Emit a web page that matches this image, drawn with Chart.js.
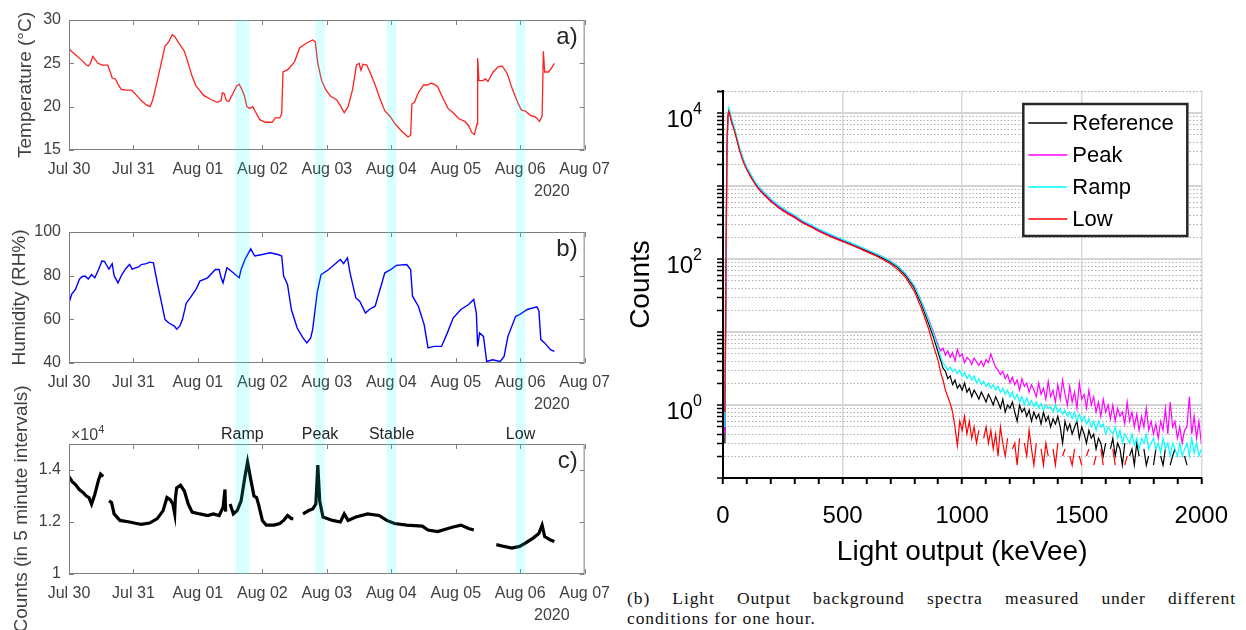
<!DOCTYPE html>
<html>
<head>
<meta charset="utf-8">
<script src="https://cdn.jsdelivr.net/npm/chart.js@4.4.1/dist/chart.umd.min.js"></script>
<style>
  body { margin: 0; background: #fff; width: 1246px; height: 630px; overflow: hidden; position: relative; }
  canvas { position: absolute; }
  #caption { position: absolute; left: 627px; top: 588px; width: 609px; font-family: "Liberation Serif", "Times New Roman", serif; font-size: 17.5px; letter-spacing: 0.9px; line-height: 20px; color: #111; }
  #caption .first { text-align: justify; text-align-last: justify; }
</style>
</head>
<body>
<canvas id="tempChart" width="620" height="206" style="left:0;top:0"></canvas>
<canvas id="humChart" width="620" height="209" style="left:0;top:206px"></canvas>
<canvas id="countChart" width="620" height="250" style="left:0;top:380px"></canvas>
<canvas id="specChart" width="626" height="580" style="left:620px;top:0"></canvas>
<div id="caption"><div class="first">(b) Light Output background spectra measured under different</div><div>conditions for one hour.</div></div>
<script>
// ---- time series (x = days since Jul 30 00:00) ----
const dayLabels = ['Jul 30', 'Jul 31', 'Aug 01', 'Aug 02', 'Aug 03', 'Aug 04', 'Aug 05', 'Aug 06', 'Aug 07'];

const bandStart = [2.58, 3.82, 4.93, 6.93];
const bandEnd = [2.80, 3.97, 5.08, 7.08];
const bandNames = ['Ramp', 'Peak', 'Stable', 'Low'];

const tempTicks = [15, 20, 25, 30];
const humTicks = [40, 60, 80, 100];
const countTicks = [10000, 12000, 14000];

const tempDays = [0, 0.05, 0.1, 0.16, 0.22, 0.27, 0.3, 0.33, 0.37, 0.41, 0.45, 0.52, 0.6, 0.64, 0.67, 0.72, 0.76, 0.81, 0.9, 0.97,
  1.05, 1.12, 1.2, 1.26, 1.3, 1.37, 1.43, 1.49, 1.55, 1.6, 1.64, 1.7, 1.79, 1.85, 1.91, 1.97, 2.09, 2.21, 2.3, 2.36,
  2.38, 2.41, 2.44, 2.48, 2.54, 2.6, 2.64, 2.68, 2.72, 2.76, 2.8, 2.85, 2.9, 2.96, 3.05, 3.15, 3.2, 3.27, 3.3, 3.32,
  3.4, 3.5, 3.58, 3.7, 3.78, 3.82, 3.86, 3.92, 3.98, 4.06, 4.15, 4.22, 4.27, 4.33, 4.4, 4.46, 4.5, 4.53, 4.56, 4.62,
  4.68, 4.75, 4.82, 4.9, 4.98, 5.06, 5.16, 5.26, 5.3, 5.32, 5.36, 5.42, 5.5, 5.56, 5.62, 5.66, 5.72, 5.8, 5.88, 5.96,
  6.05, 6.14, 6.2, 6.25, 6.29, 6.33, 6.34, 6.36, 6.42, 6.46, 6.5, 6.58, 6.66, 6.72, 6.8, 6.88, 6.96, 7.02, 7.08, 7.16,
  7.24, 7.3, 7.34, 7.36, 7.38, 7.44, 7.49, 7.53];
const tempValues = [26.7, 26.3, 26.0, 25.6, 25.2, 24.8, 24.7, 25.0, 25.8, 25.4, 25.0, 24.8, 24.8, 24.0, 23.3, 23.2, 22.6, 22.0, 21.9, 21.9,
  21.3, 20.7, 20.2, 20.0, 20.8, 23.0, 25.0, 27.0, 27.5, 28.3, 28.1, 27.4, 26.4, 25.0, 23.5, 22.4, 21.3, 20.8, 20.5, 20.7,
  21.6, 21.5, 20.7, 20.6, 21.5, 22.4, 22.6, 22.0, 21.3, 20.0, 19.8, 20.0, 19.3, 18.5, 18.2, 18.2, 18.7, 18.7, 19.2, 24.0,
  24.3, 25.2, 26.8, 27.4, 27.7, 27.5, 25.0, 23.0, 22.0, 21.2, 20.8, 20.0, 19.3, 20.0, 22.0, 24.8, 25.0, 24.2, 24.9, 24.8,
  23.8, 22.5, 21.0, 19.5, 18.9, 18.0, 17.2, 16.5, 16.7, 20.3, 20.5, 21.6, 22.5, 22.5, 22.7, 22.6, 22.3, 21.0, 19.8, 19.3,
  18.6, 18.3, 17.8, 17.0, 16.8, 18.0, 25.6, 23.0, 23.0, 23.2, 22.9, 24.0, 24.6, 24.7, 23.8, 22.0, 20.5, 19.6, 19.5, 19.0,
  18.8, 18.3, 18.9, 26.4, 24.0, 24.0, 24.5, 25.0];

const humDays = [0, 0.04, 0.1, 0.16, 0.2, 0.25, 0.3, 0.35, 0.4, 0.46, 0.51, 0.55, 0.58, 0.62, 0.67, 0.7, 0.76, 0.82, 0.88, 0.94,
  0.98, 1.03, 1.08, 1.12, 1.2, 1.25, 1.31, 1.37, 1.43, 1.49, 1.55, 1.64, 1.67, 1.72, 1.76, 1.82, 1.88, 1.97, 2.03, 2.15,
  2.27, 2.33, 2.36, 2.39, 2.45, 2.52, 2.58, 2.64, 2.67, 2.73, 2.82, 2.88, 3.0, 3.12, 3.24, 3.3, 3.33, 3.39, 3.45, 3.54,
  3.63, 3.69, 3.75, 3.78, 3.85, 3.91, 4.03, 4.15, 4.21, 4.26, 4.32, 4.36, 4.45, 4.51, 4.6, 4.66, 4.75, 4.81, 4.9, 4.99,
  5.08, 5.24, 5.3, 5.33, 5.42, 5.51, 5.57, 5.66, 5.78, 5.87, 5.96, 6.08, 6.2, 6.28, 6.32, 6.34, 6.37, 6.43, 6.48, 6.57,
  6.69, 6.75, 6.81, 6.93, 6.99, 7.11, 7.26, 7.29, 7.32, 7.38, 7.47, 7.53];
const humValues = [67.5, 71.4, 73.7, 78.3, 79.5, 79.8, 78.5, 80.5, 79.0, 82.8, 86.7, 86.5, 85.0, 83.0, 85.5, 80.0, 76.7, 80.5, 83.2, 85.1,
  83.0, 83.6, 84.0, 85.1, 85.5, 86.2, 85.9, 76.7, 68.3, 59.9, 58.3, 56.8, 55.5, 57.0, 59.9, 67.5, 69.8, 73.7, 77.5, 79.0,
  82.8, 82.8, 79.0, 76.7, 83.6, 82.0, 80.5, 79.0, 82.8, 87.4, 92.3, 89.0, 89.7, 90.5, 89.7, 89.0, 79.8, 76.0, 64.5, 56.0,
  51.5, 49.2, 51.5, 55.3, 72.1, 80.5, 82.8, 85.9, 87.4, 85.5, 88.2, 81.3, 69.8, 68.3, 62.9, 64.5, 66.0, 72.1, 81.3, 82.8,
  84.7, 85.1, 82.8, 70.6, 66.0, 57.6, 46.9, 47.6, 47.6, 53.8, 60.6, 64.5, 66.8, 69.1, 62.9, 47.6, 53.8, 52.2, 40.7, 41.5,
  40.7, 43.0, 52.2, 61.4, 62.2, 64.5, 65.7, 64.0, 50.7, 49.2, 46.1, 45.3];

// null entries are the breaks in the count record
const countDays = [0, 0.05, 0.1, 0.16, 0.22, 0.27, 0.31, 0.35, 0.4, 0.46, 0.49, 0.53, 0.57,
  0.62, 0.66, 0.7, 0.79, 0.94, 1.03, 1.12, 1.25, 1.37, 1.46, 1.52, 1.57, 1.61, 1.64, 1.65, 1.67, 1.73, 1.79, 1.85, 1.91,
  2.03, 2.15, 2.24, 2.33, 2.39, 2.42, 2.43, 2.46,
  2.5, 2.55, 2.61, 2.67, 2.73, 2.77, 2.82, 2.87, 2.91, 2.94, 3.0, 3.06, 3.18, 3.27, 3.33, 3.39, 3.45, 3.48, 3.55,
  3.63, 3.72, 3.78, 3.83, 3.86, 3.89, 3.94, 4.09, 4.21, 4.27, 4.33, 4.45, 4.63, 4.81, 4.93, 5.05, 5.24, 5.48, 5.57, 5.72,
  5.84, 5.96, 6.08, 6.2, 6.28, 6.45,
  6.63, 6.75, 6.87, 6.99, 7.08, 7.2, 7.29, 7.34, 7.38, 7.47, 7.53];
const countValues = [13750, 13550, 13440, 13250, 13130, 13000, 12940, 12690, 13060, 13630, 13840, 13750, null,
  12810, 12750, 12310, 12060, 12000, 11950, 11910, 11960, 12130, 12440, 12940, 12860, 12700, 12310, 12900, 13310, 13410, 13190, 12690, 12380,
  12310, 12250, 12310, 12250, 12560, 13250, 12400, null,
  12690, 12310, 12440, 12810, 13750, 14310, 13630, 13000, 12940, 12690, 12060, 11880, 11880, 11940, 12060, 12250, 12130, 12130, null,
  12310, 12440, 12500, 12690, 14190, 12810, 12190, 12060, 12000, 12310, 12060, 12190, 12310, 12250, 12060, 11940, 11880, 11840, 11690, 11630,
  11720, 11810, 11880, 11750, 11690, null,
  11130, 11060, 11000, 11060, 11190, 11380, 11560, 11880, 11440, 11310, 11250];

// ---- light output spectra ----
const energyKeV = [0, 8, 12, 16, 20, 24, 28, 35, 45, 55, 70, 85, 100, 120, 135, 150, 170, 200, 235, 270,
  300, 335, 370, 400, 440, 480, 520, 565, 600, 630, 665, 700, 730, 765, 800, 830, 860, 880,
  900, 910, 920, 930, 940, 950, 960, 970, 980, 990,
  1000, 1010, 1020, 1030, 1040, 1050, 1060, 1070, 1080, 1090,
  1100, 1110, 1120, 1130, 1140, 1150, 1160, 1170, 1180, 1190,
  1200, 1210, 1220, 1230, 1240, 1250, 1260, 1270, 1280, 1290,
  1300, 1310, 1320, 1330, 1340, 1350, 1360, 1370, 1380, 1390,
  1400, 1410, 1420, 1430, 1440, 1450, 1460, 1470, 1480, 1490,
  1500, 1510, 1520, 1530, 1540, 1550, 1560, 1570, 1580, 1590,
  1600, 1610, 1620, 1630, 1640, 1650, 1660, 1670, 1680, 1690,
  1700, 1710, 1720, 1730, 1740, 1750, 1760, 1770, 1780, 1790,
  1800, 1810, 1820, 1830, 1840, 1850, 1860, 1870, 1880, 1890,
  1900, 1910, 1920, 1930, 1940, 1950, 1960, 1970, 1980, 1990, 2000];

const referenceCounts = [0, 0.3, 30, 2000, 8000, 10800, 10000, 8000, 6300, 4800, 3100, 2200, 1700, 1300, 1080, 930, 790, 630, 510, 430,
  380, 318, 280, 248, 215, 190, 168, 146, 130, 118, 104, 90, 77, 59, 40, 24, 13, 8.5,
  5.2, 4.1, 3.2, 2.9, 2.3, 2.5, 1.9, 2.2, 1.7, 1.9,
  1.6, 2.0, 1.5, 1.7, 1.3, 1.6, 1.4, 1.2, 1.5, 1.3,
  1.1, 1.4, 1.2, 1.0, 1.3, 1.1, 0.9, 1.2, 0.8, 1.0,
  0.9, 1.1, 0.8, 0.6, 1.0, 0.8, 0.9, 0.7, 0.85, 0.6,
  0.8, 0.65, 0.75, 0.55, 0.8, 0.6, 0.7, 0.5, 0.65, 0.55,
  0.7, 0.5, 0.3, 0.6, 0.45, 0.55, 0.4, 0.5, 0.6, 0.35,
  0.5, 0.4, 0.3, 0.45, 0.35, 0.4, 0.25, 0.35, 0.3, 0.2,
  0.3, 0, 0.25, 0.35, 0.2, 0.3, 0.25, 0.15, 0.3, 0,
  0.2, 0.25, 0.15, 0.3, 0.2, 0, 0.25, 0.15, 0.2, 0,
  0.15, 0.25, 0, 0.2, 0.15, 0.25, 0, 0.15, 0.2, 0.25,
  0, 0.15, 0, 0.2, 0.15, 0, 0.2, 0, 0.15, 0, 0.12];

const peakCounts = [0, 0.4, 40, 2500, 8500, 11000, 10200, 8100, 6400, 4900, 3150, 2250, 1730, 1320, 1100, 945, 805, 640, 518, 437,
  386, 323, 285, 252, 219, 194, 172, 150, 134, 122, 108, 94, 80, 62, 43, 26, 15, 10,
  6.5, 5.5, 6.0, 4.8, 5.5, 4.5, 5.2, 4.0, 5.8, 4.6,
  5.0, 3.8, 4.5, 4.2, 3.6, 4.4, 3.9, 3.5, 4.0, 3.4,
  4.2, 3.8, 5.0, 4.0, 3.3, 3.0, 2.6, 2.9, 2.3, 2.6,
  2.0, 2.4, 1.9, 2.2, 1.6, 2.3, 1.8, 2.0, 1.5, 1.9,
  1.6, 1.3, 2.0, 1.4, 1.7, 1.2, 2.1, 1.3, 1.6, 1.1,
  1.9, 1.2, 2.2, 1.4, 1.0, 1.8, 1.1, 1.5, 0.9, 2.0,
  1.2, 1.4, 0.9, 1.6, 1.0, 1.3, 0.8, 1.1, 0.7, 1.2,
  0.8, 1.0, 0.65, 1.0, 0.6, 0.9, 0.7, 0.8, 0.55, 1.1,
  0.6, 0.8, 0.5, 0.75, 0.45, 0.7, 0.5, 0.9, 0.45, 0.6,
  0.4, 0.55, 0.35, 0.6, 0.45, 0.9, 0.4, 1.1, 0.5, 0.6,
  0.35, 0.5, 0.3, 0.45, 0.5, 1.3, 0.4, 0.7, 0.35, 0.6, 0.3];

const rampCounts = [0, 0.5, 50, 2800, 9000, 11800, 10800, 8600, 6700, 5100, 3300, 2350, 1800, 1380, 1140, 980, 830, 665, 535, 450,
  398, 332, 292, 258, 224, 197, 174, 151, 135, 122, 108, 93, 80, 62, 43, 26, 14.5, 9.5,
  6.0, 4.6, 3.8, 3.4, 3.0, 3.3, 2.9, 3.1, 2.7, 3.0,
  2.5, 2.8, 2.3, 2.6, 2.2, 2.5, 2.0, 2.3, 1.9, 2.1,
  1.8, 2.0, 1.7, 1.9, 1.6, 1.8, 1.5, 1.7, 1.4, 1.6,
  1.3, 1.5, 1.2, 1.4, 1.1, 1.3, 1.0, 1.25, 1.0, 1.15,
  0.95, 1.1, 0.9, 1.05, 0.85, 1.0, 0.9, 0.95, 0.8, 1.0,
  0.8, 0.9, 0.75, 0.85, 0.7, 0.8, 0.65, 0.8, 0.6, 0.75,
  0.6, 0.7, 0.55, 0.65, 0.5, 0.6, 0.45, 0.6, 0.5, 0.55,
  0.4, 0.5, 0.45, 0.4, 0.5, 0.35, 0.45, 0.3, 0.4, 0.35,
  0.3, 0.4, 0.28, 0.35, 0.25, 0.35, 0.3, 0.4, 0.25, 0.3,
  0.35, 0.25, 0.3, 0.22, 0.35, 0.25, 0.3, 0.2, 0.3, 0.25,
  0.2, 0.3, 0.2, 0.25, 0.3, 0.2, 0.35, 0.22, 0.3, 0.2, 0.25];

const lowCounts = [0, 0.8, 60, 3000, 9000, 10500, 9600, 7700, 6100, 4650, 3000, 2130, 1650, 1260, 1050, 900, 765, 610, 495, 418,
  368, 308, 272, 240, 208, 184, 163, 142, 126, 114, 100, 86, 72, 55, 36, 21, 11, 6.5,
  4.0, 2.8, 2.2, 1.6, 1.3, 1.05, 0.8, 0.5, 0.28, 0.6,
  0.45, 0.7, 0.4, 0.6, 0.35, 0.5, 0.3, 0.45, 0, 0.35,
  0.5, 0.3, 0.45, 0.25, 0.4, 0.2, 0.5, 0.3, 0.2, 0.35,
  0, 0.25, 0.3, 0.15, 0.35, 0, 0.3, 0.2, 0.45, 0.25,
  0.15, 0.3, 0, 0.25, 0.15, 0.3, 0.2, 0, 0.25, 0.15,
  0.3, 0, 0.2, 0.25, 0, 0.2, 0.15, 0.25, 0, 0.2,
  0.15, 0, 0.2, 0.25, 0, 0.15, 0.2, 0, 0.25, 0.15,
  0, 0.2, 0, 0.25, 0.15, 0, 0.2, 0, 0.15, 0.2,
  0, 0.15, 0, 0.2, 0, 0.15, 0, 0.2, 0, 0.15,
  0, 0, 0.2, 0, 0.15, 0, 0.2, 0, 0, 0.15,
  0, 0.2, 0, 0, 0.15, 0, 0.2, 0, 0.15, 0, 0];

const decadeExponents = [0, 2, 4];

const FONT = '"Liberation Sans", Arial, Helvetica, sans-serif';
Chart.defaults.font.family = FONT;
Chart.defaults.animation = false;
Chart.defaults.responsive = false;
Chart.defaults.plugins.legend.display = false;
Chart.defaults.plugins.tooltip.enabled = false;

const toXY = (xs, ys) => xs.map((x, i) => ({ x: x, y: ys[i] }));

// boxed axes with inward ticks, cyan time windows, and panel annotations
const panelDecor = {
  id: 'panelDecor',
  afterDraw(chart, args, o) {
    const { ctx, chartArea: a } = chart;
    const xs = chart.scales.x, ys = chart.scales.y;
    ctx.save();

    ctx.strokeStyle = '#7f7f7f';
    ctx.lineWidth = 1;
    ctx.beginPath();
    ctx.rect(a.left + 0.5, a.top + 0.5, a.right - a.left - 1, a.bottom - a.top - 1);
    xs.ticks.forEach(t => {
      const px = Math.round(xs.getPixelForValue(t.value)) + 0.5;
      ctx.moveTo(px, a.bottom); ctx.lineTo(px, a.bottom - 5);
      ctx.moveTo(px, a.top); ctx.lineTo(px, a.top + 5);
    });
    ys.ticks.forEach(t => {
      const py = Math.round(ys.getPixelForValue(t.value)) + 0.5;
      ctx.moveTo(a.left, py); ctx.lineTo(a.left + 5, py);
      ctx.moveTo(a.right, py); ctx.lineTo(a.right - 5, py);
    });
    ctx.stroke();

    const top = o.bandTop === 'area' ? a.top : o.bandTop;
    const bottom = o.bandBottom === 'area' ? a.bottom : chart.height;
    ctx.fillStyle = 'rgba(0, 255, 255, 0.15)';
    bandStart.forEach((s, i) => {
      const x0 = xs.getPixelForValue(s), x1 = xs.getPixelForValue(bandEnd[i]);
      ctx.fillRect(x0, top, x1 - x0, bottom - top);
    });

    ctx.fillStyle = '#262626';
    ctx.textBaseline = 'middle';
    ctx.textAlign = 'right';
    ctx.font = '24px ' + FONT;
    ctx.fillText(o.tag, a.right - 7, a.top + 17);

    ctx.fillStyle = '#404040';
    ctx.font = '16px ' + FONT;
    ctx.fillText('2020', a.right - 15, a.bottom + 42);

    if (o.names) {
      ctx.fillStyle = '#262626';
      ctx.textAlign = 'center';
      bandNames.forEach((n, i) => {
        const cx = xs.getPixelForValue((bandStart[i] + bandEnd[i]) / 2);
        ctx.fillText(n, cx, a.top - 9);
      });
    }
    if (o.exponent) {
      ctx.fillStyle = '#404040';
      ctx.textAlign = 'left';
      ctx.font = '16px ' + FONT;
      ctx.fillText('\u00d710', a.left + 2, a.top - 8);
      const w = ctx.measureText('\u00d710').width;
      ctx.font = '11px ' + FONT;
      ctx.fillText(o.exponent, a.left + 2 + w, a.top - 14);
    }
    ctx.restore();
  }
};

function makePanel(id, points, color, lineWidth, yScale, axisHeight, padTop, titlePad, decor) {
  return new Chart(document.getElementById(id), {
    type: 'line',
    data: {
      datasets: [{
        data: points,
        borderColor: color,
        borderWidth: lineWidth,
        pointRadius: 0,
        tension: 0,
        spanGaps: false
      }]
    },
    options: {
      layout: { padding: { top: padTop, right: 29, left: 0, bottom: 0 } },
      scales: {
        x: {
          type: 'linear',
          min: 0,
          max: 8,
          grid: { display: false, drawTicks: false },
          border: { display: false },
          ticks: {
            stepSize: 1,
            autoSkip: false,
            maxRotation: 0,
            padding: 10,
            color: '#404040',
            font: { size: 16 },
            callback: v => dayLabels[v]
          },
          afterFit: s => { s.height = axisHeight; }
        },
        y: {
          min: yScale.min,
          max: yScale.max,
          grid: { display: false, drawTicks: false },
          border: { display: false },
          afterBuildTicks: s => { s.ticks = yScale.tickValues.map(v => ({ value: v })); },
          ticks: {
            autoSkip: false,
            padding: 8,
            color: '#404040',
            font: { size: 16 },
            callback: yScale.format || (v => String(v))
          },
          title: {
            display: true,
            text: yScale.titleText,
            color: '#404040',
            font: { size: 19 },
            padding: { top: titlePad, bottom: 0 }
          },
          afterFit: s => { s.width = 69; }
        }
      },
      plugins: { panelDecor: decor }
    },
    plugins: [panelDecor]
  });
}

makePanel('tempChart', toXY(tempDays, tempValues), '#ff2020', 1.3,
  { min: 15, max: 30, tickValues: tempTicks, titleText: 'Temperature (\u00b0C)' },
  56, 20, 14, { tag: 'a)', bandTop: 'area', bandBottom: 'canvas' });

makePanel('humChart', toXY(humDays, humValues), '#0000ff', 1.4,
  { min: 40, max: 100, tickValues: humTicks, titleText: 'Humidity (RH%)' },
  52, 26, 8, { tag: 'b)', bandTop: 0, bandBottom: 'canvas' });

// this canvas starts at y=380 so the long axis title fits; bands begin where the panel above ends
makePanel('countChart', toXY(countDays, countValues), '#000000', 3.2,
  { min: 10000, max: 15000, tickValues: countTicks, titleText: 'Counts (in 5 minute intervals)', format: v => String(v / 10000) },
  56, 64, 10, { tag: 'c)', bandTop: 35, bandBottom: 'area', names: true, exponent: '4' });

// ---- spectrum panel ----
const isDecade = v => Math.abs(Math.log10(v) - Math.round(Math.log10(v))) < 1e-9;
const logTicks = [];
for (let e = -1; e <= 4; e++) {
  for (let m = 1; m <= 9; m++) {
    const v = m * Math.pow(10, e);
    if (v <= 20000) logTicks.push(v);
  }
}
logTicks.push(20000);

const decadeLabels = {
  id: 'decadeLabels',
  afterDraw(chart) {
    const { ctx } = chart;
    const ys = chart.scales.y;
    ctx.save();
    ctx.fillStyle = '#000';
    ctx.textBaseline = 'middle';
    ctx.textAlign = 'right';
    decadeExponents.forEach(e => {
      const py = ys.getPixelForValue(Math.pow(10, e));
      const xr = ys.right - 21;
      ctx.font = '16px ' + FONT;
      ctx.fillText(String(e), xr, py - 3);
      const ew = ctx.measureText(String(e)).width;
      ctx.font = '24px ' + FONT;
      ctx.fillText('10', xr - ew, py + 7);
    });
    ctx.restore();
  }
};

const specLegend = {
  id: 'specLegend',
  afterDraw(chart) {
    const { ctx, chartArea: a } = chart;
    const w = 164, h = 132;
    const bx = a.right - 14 - w, by = a.top + 13;
    ctx.save();
    ctx.fillStyle = '#fff';
    ctx.fillRect(bx, by, w, h);
    ctx.lineWidth = 2.5;
    ctx.strokeStyle = '#262626';
    ctx.strokeRect(bx, by, w, h);
    ctx.font = '22px ' + FONT;
    ctx.textBaseline = 'middle';
    ctx.textAlign = 'left';
    chart.data.datasets.forEach((ds, i) => {
      const yy = by + 19 + i * 32;
      ctx.strokeStyle = ds.borderColor;
      ctx.lineWidth = 1.5;
      ctx.beginPath();
      ctx.moveTo(bx + 5, yy);
      ctx.lineTo(bx + 44, yy);
      ctx.stroke();
      ctx.fillStyle = '#000';
      ctx.fillText(ds.label, bx + 49, yy + 1);
    });
    ctx.restore();
  }
};

const spectrum = (label, values, color, order) => ({
  label: label,
  data: toXY(energyKeV, values),
  borderColor: color,
  borderWidth: 1.2,
  pointRadius: 0,
  tension: 0,
  order: order
});

new Chart(document.getElementById('specChart'), {
  type: 'line',
  data: {
    datasets: [
      spectrum('Reference', referenceCounts, '#000000', 3),
      spectrum('Peak', peakCounts, '#ff00ff', 2),
      spectrum('Ramp', rampCounts, '#00ffff', 1),
      spectrum('Low', lowCounts, '#ff0000', 0)
    ]
  },
  options: {
    layout: { padding: { top: 91, right: 38, left: 0, bottom: 0 } },
    scales: {
      x: {
        type: 'linear',
        min: 0,
        max: 2000,
        ticks: {
          stepSize: 100,
          autoSkip: false,
          maxRotation: 0,
          padding: 18,
          color: '#000',
          font: { size: 24 },
          callback: v => (v % 500 === 0 ? String(v) : '')
        },
        grid: {
          color: c => (c.tick && c.tick.value % 500 === 0 && c.tick.value > 0 ? '#d9d9d9' : 'rgba(0,0,0,0)'),
          lineWidth: 1.5,
          tickColor: '#000',
          tickWidth: 2,
          tickLength: 6
        },
        border: { color: '#000', width: 2 },
        title: {
          display: true,
          text: 'Light output (keVee)',
          color: '#000',
          font: { size: 28 },
          padding: { top: 0, bottom: 11 }
        },
        afterFit: s => { s.height = 102; }
      },
      y: {
        type: 'logarithmic',
        min: 0.1,
        max: 20000,
        afterBuildTicks: s => { s.ticks = logTicks.map(v => ({ value: v })); },
        ticks: { autoSkip: false, callback: () => '' },
        grid: {
          color: c => (c.tick && isDecade(c.tick.value) ? '#d4d4d4' : '#b0b0b0'),
          lineWidth: c => (c.tick && isDecade(c.tick.value) ? 2 : 1),
          tickColor: '#000',
          tickWidth: 1.5,
          tickLength: 6
        },
        border: {
          color: '#000',
          width: 2,
          dash: c => (c.tick && !isDecade(c.tick.value) ? [1.5, 2] : [])
        },
        title: {
          display: true,
          text: 'Counts',
          color: '#000',
          font: { size: 28 },
          padding: { top: 4, bottom: 0 }
        },
        afterFit: s => { s.width = 103; }
      }
    }
  },
  plugins: [decadeLabels, specLegend]
});
</script>
</body>
</html>
